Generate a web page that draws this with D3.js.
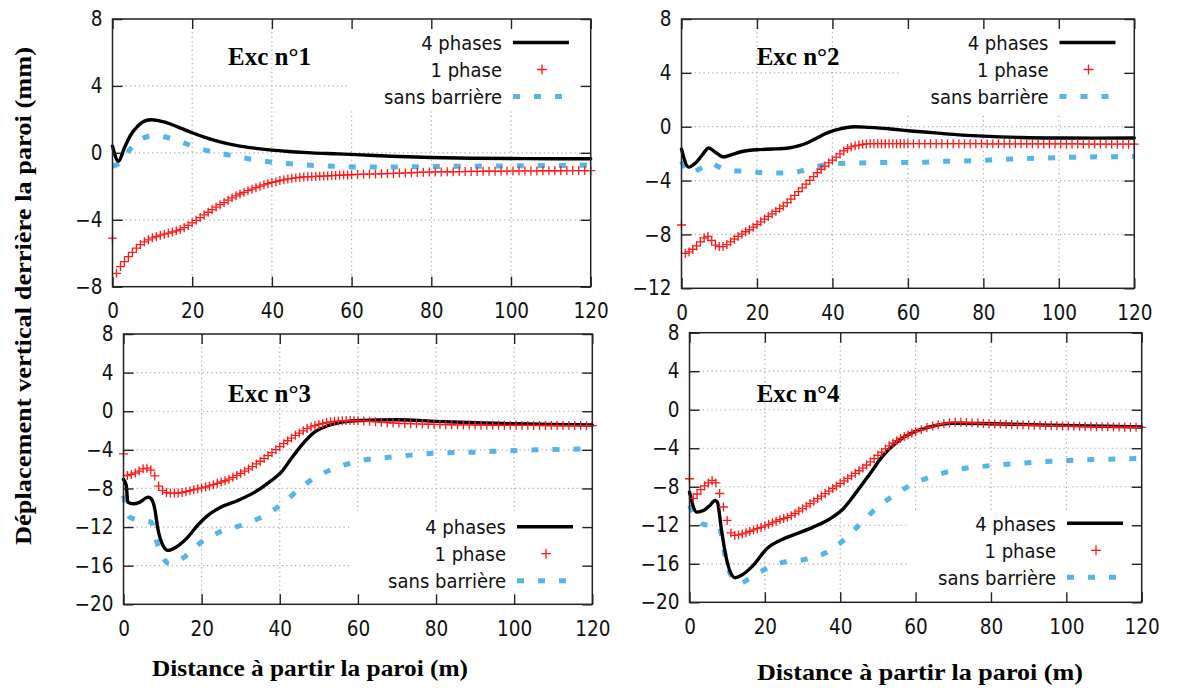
<!DOCTYPE html>
<html><head><meta charset="utf-8">
<script src="https://cdn.jsdelivr.net/npm/d3@7"></script>
<style>html,body{margin:0;padding:0;background:#fff;} svg{display:block;}</style>
</head><body>
<svg id="chart" width="1201" height="688"></svg>
<script>
// ---------------- DATA ----------------
const xTicks = [0, 20, 40, 60, 80, 100, 120];
const yTicksExc1 = [-8, -4, 0, 4, 8];
const yTicksExc2 = [-12, -8, -4, 0, 4, 8];
const yTicksExc34 = [-20, -16, -12, -8, -4, 0, 4, 8];
const seriesNames = ["4 phases", "1 phase", "sans barrière"];
const titles = ["Exc n°1", "Exc n°2", "Exc n°3", "Exc n°4"];
const yAxisTitle = "Déplacement vertical derrière la paroi (mm)";
const xAxisTitle = "Distance à partir la paroi (m)";

// x positions (m) of the "1 phase" markers
const phase1X = [0,1,2,3,4,5,6,7,8,9,10,11,12,13,14,15,16,17,18,19,20,21,22,23,24,25,26,27,28,29,30,
  31,32,33,34,35,36,37,38,39,40,41,42,43,44,45,46,47,48,49,50,51,52,53,54,55,56,57,58,59,60,
  61.5,63,64.5,66,67.5,69,70.5,72,73.5,75,76.5,78,79.5,81,82.5,84,85.5,87,88.5,90,
  91.5,93,94.5,96,97.5,99,100.5,102,103.5,105,106.5,108,109.5,111,112.5,114,115.5,117,118.5,120];

// "1 phase" settlement (mm) for each excavation
const phase1Exc1 = [-5.1,-7.2,-6.8,-6.5,-6.2,-5.95,-5.7,-5.48,-5.32,-5.2,
  -5.08,-5.0,-4.92,-4.86,-4.8,-4.73,-4.66,-4.58,-4.47,-4.34,
  -4.18,-4.03,-3.87,-3.71,-3.55,-3.39,-3.24,-3.1,-2.97,-2.83,
  -2.69,-2.57,-2.46,-2.36,-2.26,-2.17,-2.08,-1.99,-1.91,-1.84,
  -1.77,-1.72,-1.66,-1.61,-1.56,-1.52,-1.49,-1.46,-1.44,-1.43,
  -1.42,-1.41,-1.4,-1.39,-1.38,-1.36,-1.35,-1.34,-1.33,-1.32,-1.31,
  -1.29,-1.28,-1.27,-1.26,-1.25,-1.24,-1.23,-1.21,-1.2,-1.19,
  -1.17,-1.16,-1.15,-1.14,-1.14,-1.13,-1.13,-1.12,-1.12,-1.11,
  -1.11,-1.1,-1.1,-1.1,-1.09,-1.09,-1.09,-1.08,-1.08,-1.08,
  -1.08,-1.07,-1.07,-1.07,-1.07,-1.06,-1.06,-1.06,-1.06,-1.06];
const phase1Exc2 = [-7.3,-9.4,-9.3,-9.1,-8.85,-8.55,-8.25,-8.15,-8.45,-8.8,
  -8.9,-8.9,-8.75,-8.55,-8.35,-8.15,-7.98,-7.8,-7.65,-7.46,
  -7.26,-7.06,-6.86,-6.66,-6.47,-6.28,-6.08,-5.89,-5.64,-5.38,
  -5.1,-4.82,-4.54,-4.26,-3.98,-3.7,-3.42,-3.16,-2.92,-2.69,
  -2.48,-2.26,-2.02,-1.8,-1.62,-1.5,-1.42,-1.36,-1.31,-1.28,
  -1.26,-1.26,-1.26,-1.26,-1.26,-1.26,-1.26,-1.26,-1.26,-1.26,-1.26,
  -1.26,-1.26,-1.26,-1.26,-1.26,-1.26,-1.26,-1.26,-1.26,-1.26,
  -1.26,-1.26,-1.26,-1.27,-1.27,-1.27,-1.27,-1.27,-1.27,-1.27,
  -1.27,-1.27,-1.28,-1.28,-1.28,-1.28,-1.28,-1.28,-1.28,-1.28,
  -1.29,-1.29,-1.29,-1.29,-1.29,-1.29,-1.3,-1.3,-1.3,-1.3];
const phase1Exc3 = [-4.41,-6.66,-6.55,-6.4,-6.2,-5.97,-5.9,-6.1,-6.7,-7.75,
  -8.2,-8.42,-8.48,-8.48,-8.47,-8.42,-8.33,-8.23,-8.13,-8.04,
  -7.94,-7.85,-7.74,-7.61,-7.47,-7.33,-7.2,-7.04,-6.85,-6.65,
  -6.43,-6.21,-5.98,-5.73,-5.46,-5.18,-4.89,-4.59,-4.29,-3.98,
  -3.67,-3.36,-3.06,-2.78,-2.5,-2.26,-2.03,-1.8,-1.62,-1.49,
  -1.37,-1.27,-1.17,-1.1,-1.05,-1.02,-0.99,-0.97,-0.97,-0.97,-0.98,
  -1.0,-1.05,-1.1,-1.15,-1.19,-1.22,-1.25,-1.27,-1.29,-1.31,
  -1.33,-1.35,-1.37,-1.38,-1.39,-1.4,-1.41,-1.42,-1.42,-1.43,
  -1.44,-1.44,-1.45,-1.45,-1.46,-1.46,-1.46,-1.47,-1.47,-1.47,
  -1.48,-1.48,-1.48,-1.48,-1.49,-1.49,-1.49,-1.49,-1.5,-1.5];
const phase1Exc4 = [-7.17,-9.2,-8.75,-8.3,-7.9,-7.6,-7.35,-7.6,-8.7,-10.1,
  -11.5,-12.8,-13.05,-13.0,-12.9,-12.78,-12.62,-12.48,-12.35,-12.22,
  -12.06,-11.9,-11.75,-11.58,-11.42,-11.3,-11.17,-11.0,-10.78,-10.53,
  -10.28,-10.02,-9.76,-9.5,-9.23,-8.97,-8.71,-8.45,-8.18,-7.92,
  -7.65,-7.39,-7.13,-6.86,-6.6,-6.34,-6.06,-5.74,-5.41,-5.08,
  -4.74,-4.41,-4.07,-3.75,-3.48,-3.22,-2.99,-2.79,-2.6,-2.43,-2.28,
  -2.08,-1.85,-1.7,-1.55,-1.45,-1.36,-1.3,-1.3,-1.33,-1.36,
  -1.39,-1.42,-1.45,-1.47,-1.49,-1.51,-1.53,-1.55,-1.57,-1.59,
  -1.61,-1.62,-1.64,-1.65,-1.67,-1.68,-1.7,-1.71,-1.72,-1.73,
  -1.75,-1.76,-1.77,-1.78,-1.79,-1.8,-1.81,-1.82,-1.83,-1.84];

// "4 phases" curves: [distance (m), settlement (mm)]
const phase4Exc1 = [[0,0.4],[1.5,-0.5],[3,0.3],[4.4,1.0],[6.5,1.63],[8,1.9],[9.8,1.98],[11.5,1.93],
  [13.2,1.83],[15,1.68],[17.4,1.45],[20,1.2],[23.2,0.92],[27,0.65],[31.6,0.42],[36,0.27],[40,0.16],
  [45,0.07],[50,0.0],[56.6,-0.06],[62.5,-0.12],[70,-0.2],[80,-0.28],[90,-0.32],[100,-0.34],[110,-0.35],[120,-0.35]];
const phase4Exc2 = [[0,-1.66],[1.9,-3.0],[3.7,-2.7],[5.5,-2.1],[7.2,-1.58],[9,-1.9],[11.2,-2.25],[13.5,-2.05],
  [16.1,-1.84],[20.5,-1.7],[24,-1.66],[28.4,-1.58],[31,-1.42],[33.7,-1.15],[36,-0.82],[38.1,-0.52],[40.5,-0.28],
  [43.4,-0.08],[46,0.0],[49.6,-0.05],[54.9,-0.15],[60.2,-0.3],[66.4,-0.44],[70,-0.53],[80,-0.7],[90,-0.8],
  [100,-0.84],[110,-0.85],[120,-0.84]];
const phase4Exc3 = [[0,-7.07],[0.7,-7.69],[1.1,-9.41],[2.4,-9.59],[4.2,-9.41],[6.3,-8.9],[7.1,-9.07],[8,-10.1],
  [8.8,-12.17],[10.1,-13.9],[11.4,-14.41],[13.5,-14.07],[16.1,-13.2],[19.1,-11.76],[21.6,-10.79],[25,-9.93],
  [29.3,-9.24],[33.6,-8.38],[37.8,-7.18],[40.4,-6.31],[42.9,-4.93],[45.5,-3.56],[48.9,-2.17],[52.3,-1.49],
  [55.7,-1.14],[60,-0.97],[65,-0.9],[70,-0.88],[80,-1.05],[90,-1.2],[100,-1.3],[110,-1.38],[120,-1.42]];
const phase4Exc4 = [[0,-8.56],[1.9,-10.63],[3.7,-10.46],[5.4,-9.94],[6.8,-9.42],[7.4,-9.6],[8.5,-12.53],
  [9.9,-15.65],[12.1,-17.45],[13.8,-17.2],[16.9,-16.17],[20.5,-14.43],[24,-13.57],[28.4,-12.88],[32.8,-12.19],
  [37.3,-11.32],[40.8,-10.28],[44.3,-8.56],[47.9,-6.65],[51.4,-4.75],[55,-3.36],[59.4,-2.33],[62.9,-1.87],
  [70,-1.4],[80,-1.45],[90,-1.55],[100,-1.63],[110,-1.72],[120,-1.8]];

// "sans barrière" curves: [distance (m), settlement (mm)]
const sansExc1 = [[0,-0.8],[2.3,-0.5],[4,0.1],[6.1,0.63],[8.5,0.95],[11.1,1.03],[14,0.9],[16.9,0.69],[19.5,0.45],
  [22,0.24],[27.4,-0.04],[32.8,-0.3],[38.7,-0.52],[44.1,-0.64],[49.5,-0.74],[55.4,-0.8],[60.9,-0.84],[70,-0.85],
  [80,-0.82],[90,-0.8],[100,-0.78],[110,-0.76],[120,-0.74]];
const sansExc2 = [[0,-2.58],[2.4,-3.44],[5,-3.1],[7.7,-2.7],[10,-3.0],[12.5,-3.25],[17.6,-3.32],[23.2,-3.44],
  [28.6,-3.44],[31.5,-3.3],[34.6,-3.07],[40.2,-2.75],[45.7,-2.7],[51.5,-2.67],[57,-2.65],[62.4,-2.65],[68,-2.58],
  [73.4,-2.55],[79,-2.5],[84.6,-2.43],[90.2,-2.38],[95.7,-2.33],[101.3,-2.28],[107,-2.25],[113,-2.23],[120,-2.21]];
const sansExc3 = [[0,-8.72],[1.6,-10.96],[4.2,-11.3],[7.1,-11.48],[8.4,-13.38],[10.6,-15.45],[11.8,-15.8],
  [15.6,-15.1],[19.9,-13.55],[25,-12.45],[30.6,-11.76],[36.1,-10.79],[41.2,-9.41],[45.5,-7.86],[49.7,-6.72],
  [54.9,-5.79],[60.9,-5.11],[70,-4.69],[80,-4.34],[90,-4.24],[100,-4.07],[110,-3.97],[120,-3.9]];
const sansExc4 = [[0,-9.94],[1.5,-11.0],[3.2,-11.84],[5.2,-12.0],[7.9,-12.19],[9,-14.27],[10.3,-16.51],
  [11.8,-17.6],[13.4,-18.0],[16,-17.5],[18.7,-16.86],[24,-15.93],[30.2,-15.58],[36,-14.89],[40.8,-13.6],
  [45.2,-11.9],[49.7,-10.2],[55,-8.7],[59.8,-7.6],[65,-6.85],[70,-6.3],[80,-5.8],[90,-5.5],[100,-5.27],
  [110,-5.15],[120,-5.05]];

// ---------------- LAYOUT / STYLE ----------------
const C_BLACK = "#000", C_RED = "#ff1a1a", C_BLUE = "#56b4e9", C_GRID = "#a8a8a8";
const TICK_FONT = "'DejaVu Sans Condensed','DejaVu Sans',sans-serif";
const SERIF = "'Liberation Serif','Times New Roman',serif";

const panels = [
  {frame:[112.5,590.7,19,286.7], yDomain:[-8,8], yTicks:yTicksExc1, title:titles[0], titlePos:[228,65],
   legBox:[348,null,null,110], legTextX:502, legY:42.5,
   p4:phase4Exc1, p1:phase1Exc1, sans:sansExc1},
  {frame:[681.5,1134.3,19,288.3], yDomain:[-12,8], yTicks:yTicksExc2, title:titles[1], titlePos:[756.7,65],
   legBox:[900,null,null,113], legTextX:1048.5, legY:42.5,
   p4:phase4Exc2, p1:phase1Exc2, sans:sansExc2},
  {frame:[123.5,592.3,334,604.3], yDomain:[-20,8], yTicks:yTicksExc34, title:titles[2], titlePos:[228,401.7],
   legBox:[350,null,514,null], legTextX:506, legY:526.7,
   p4:phase4Exc3, p1:phase1Exc3, sans:sansExc3},
  {frame:[689.5,1141.7,332.7,602.3], yDomain:[-20,8], yTicks:yTicksExc34, title:titles[3], titlePos:[756.7,401.7],
   legBox:[907,null,512,null], legTextX:1056, legY:523.3,
   p4:phase4Exc4, p1:phase1Exc4, sans:sansExc4}
];

const svg = d3.select("#chart");
svg.append("rect").attr("width",1201).attr("height",688).attr("fill","#fff");

panels.forEach(p => {
  const [L,R,T,B] = p.frame;
  const x = d3.scaleLinear().domain([0,120]).range([L,R]);
  const y = d3.scaleLinear().domain(p.yDomain).range([B,T]);
  const g = svg.append("g");

  // grid (dotted)
  const grid = g.append("g").attr("stroke",C_GRID).attr("stroke-width",1.2).attr("stroke-dasharray","1.2,3.2");
  xTicks.slice(1,-1).forEach(v => grid.append("line").attr("x1",x(v)).attr("x2",x(v)).attr("y1",T).attr("y2",B));
  p.yTicks.slice(1,-1).forEach(v => grid.append("line").attr("x1",L).attr("x2",R).attr("y1",y(v)).attr("y2",y(v)));

  // opaque legend box
  const bx0 = p.legBox[0], bx1 = R;
  const by0 = p.legBox[2] == null ? T : p.legBox[2];
  const by1 = p.legBox[3] == null ? B : p.legBox[3];
  g.append("rect").attr("x",bx0).attr("y",by0).attr("width",bx1-bx0).attr("height",by1-by0).attr("fill","#fff");

  // title
  g.append("text").attr("x",p.titlePos[0]).attr("y",p.titlePos[1]).text(p.title)
    .attr("font-family",SERIF).attr("font-weight","bold").attr("font-size",25).attr("fill","#000");

  // series
  const line = d3.line().x(d => x(d[0])).y(d => y(d[1])).curve(d3.curveMonotoneX);
  g.append("path").datum(p.sans).attr("d",line).attr("fill","none").attr("stroke",C_BLUE)
    .attr("stroke-width",5).attr("stroke-dasharray","7,14");
  g.append("path").datum(p.p4).attr("d",line).attr("fill","none").attr("stroke",C_BLACK)
    .attr("stroke-width",3.4).attr("stroke-linejoin","round").attr("stroke-linecap","round");
  const pts = phase1X.map((v,i) => [v, p.p1[i]]);
  g.append("g").selectAll("path").data(pts).join("path")
    .attr("d","M-4.5,0H4.5M0,-4.5V4.5").attr("transform",d => `translate(${x(d[0])},${y(d[1])})`)
    .attr("stroke",C_RED).attr("stroke-width",1.3).attr("fill","none");

  // axes (inward ticks, mirrored)
  const styleAxis = sel => {
    sel.select(".domain").remove();
    sel.selectAll(".tick line").attr("stroke","#222").attr("stroke-width",1.4);
    sel.selectAll("text").attr("font-family",TICK_FONT).attr("font-size",20.5).attr("fill","#111");
  };
  g.append("g").attr("transform",`translate(0,${B})`)
    .call(d3.axisBottom(x).tickValues(xTicks).tickSize(-10).tickPadding(17).tickFormat(d3.format("d"))).call(styleAxis);
  g.append("g").attr("transform",`translate(0,${T})`)
    .call(d3.axisTop(x).tickValues(xTicks).tickSize(-10).tickFormat("")).call(styleAxis);
  g.append("g").attr("transform",`translate(${L},0)`)
    .call(d3.axisLeft(y).tickValues(p.yTicks).tickSize(-10).tickPadding(10).tickFormat(d3.format("d"))).call(styleAxis);
  g.append("g").attr("transform",`translate(${R},0)`)
    .call(d3.axisRight(y).tickValues(p.yTicks).tickSize(-10).tickFormat("")).call(styleAxis);
  g.append("rect").attr("x",L).attr("y",T).attr("width",R-L).attr("height",B-T)
    .attr("fill","none").attr("stroke","#222").attr("stroke-width",1.5);

  // legend
  const lg = g.append("g");
  const tx = p.legTextX, rowH = 27;
  seriesNames.forEach((name,i) => {
    lg.append("text").attr("x",tx).attr("y",p.legY + i*rowH).attr("dy","0.36em").attr("text-anchor","end")
      .attr("font-family",TICK_FONT).attr("font-size",20).attr("fill","#111").text(name);
  });
  lg.append("line").attr("x1",tx+11).attr("x2",tx+67).attr("y1",p.legY).attr("y2",p.legY)
    .attr("stroke",C_BLACK).attr("stroke-width",3.4);
  lg.append("path").attr("d","M-5,0H5M0,-5V5").attr("transform",`translate(${tx+40},${p.legY+rowH})`)
    .attr("stroke",C_RED).attr("stroke-width",1.3);
  lg.append("line").attr("x1",tx+11).attr("x2",tx+62).attr("y1",p.legY+2*rowH).attr("y2",p.legY+2*rowH)
    .attr("stroke",C_BLUE).attr("stroke-width",5).attr("stroke-dasharray","7,14");
});

// axis titles
svg.append("text").attr("transform","translate(31,296) rotate(-90)").attr("text-anchor","middle")
  .attr("font-family",SERIF).attr("font-weight","bold").attr("font-size",23)
  .attr("textLength",498).attr("lengthAdjust","spacingAndGlyphs").text(yAxisTitle);
svg.append("text").attr("x",310).attr("y",676).attr("text-anchor","middle")
  .attr("font-family",SERIF).attr("font-weight","bold").attr("font-size",23)
  .attr("textLength",316).attr("lengthAdjust","spacingAndGlyphs").text(xAxisTitle);
svg.append("text").attr("x",920).attr("y",680).attr("text-anchor","middle")
  .attr("font-family",SERIF).attr("font-weight","bold").attr("font-size",23)
  .attr("textLength",326).attr("lengthAdjust","spacingAndGlyphs").text(xAxisTitle);
</script>
</body></html>
